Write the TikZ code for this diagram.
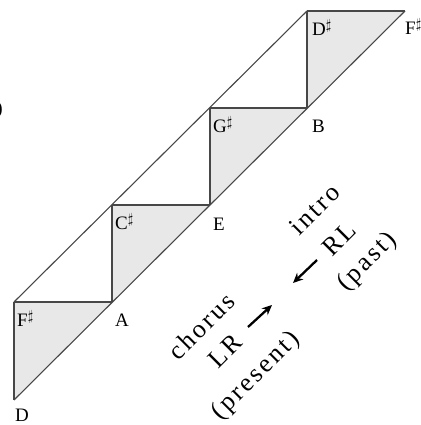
\documentclass[tikz,border=0pt]{standalone}
\usepackage{fontspec}
\setmainfont{Liberation Serif}
\usetikzlibrary{arrows.meta,calc}
\begin{document}
\begin{tikzpicture}[x=1pt,y=1pt,
  edge/.style={draw=black!72,line width=1.1pt,line join=miter},
  shade/.style={fill=black!9},
  lbl/.style={anchor=base west,inner sep=0pt,font=\fontsize{19}{19}\selectfont},
  rot/.style={rotate=45,inner sep=0pt,font=\fontsize{26}{26}\selectfont\addfontfeatures{LetterSpace=10}},
  bigarrow/.style={line width=2.3pt,-{Stealth[length=10pt,width=9pt]}}]
\useasboundingbox (0,0) rectangle (420,425);
% vertices
\coordinate (vD) at (14,25);
\coordinate (vF) at (14,123);
\coordinate (vA) at (112,123);
\coordinate (vC) at (112,220);
\coordinate (vE) at (210,220);
\coordinate (vG) at (210,317);
\coordinate (vB) at (307,317);
\coordinate (vDs) at (307,414);
\coordinate (vFs) at (405,414);
% shaded triangles
\fill[shade] (vF) -- (vA) -- (vD) -- cycle;
\fill[shade] (vC) -- (vE) -- (vA) -- cycle;
\fill[shade] (vG) -- (vB) -- (vE) -- cycle;
\fill[shade] (vDs) -- (vFs) -- (vB) -- cycle;
% outline
\draw[edge] (vD) -- (vFs);
\draw[edge] (vF) -- (vDs);
\draw[edge] (vF) -- (vA);
\draw[edge] (vC) -- (vE);
\draw[edge] (vG) -- (vB);
\draw[edge] (vDs) -- (vFs);
\draw[edge] (vD) -- (vF);
\draw[edge] (vA) -- (vC);
\draw[edge] (vE) -- (vG);
\draw[edge] (vB) -- (vDs);
% labels
\node[lbl] (lD) at ($(vD)+(1,-21)$) {D};
\node[lbl] (lF) at ($(vF)+(3,-25)$) {F$^{\sharp}$};
\node[lbl] (lA) at ($(vA)+(3,-25)$) {A};
\node[lbl] (lC) at ($(vC)+(3,-25)$) {C$^{\sharp}$};
\node[lbl] (lE) at ($(vE)+(3,-26)$) {E};
\node[lbl] (lG) at ($(vG)+(3,-25)$) {G$^{\sharp}$};
\node[lbl] (lB) at ($(vB)+(5,-25)$) {B};
\node[lbl] (lDs) at ($(vDs)+(5,-25)$) {D$^{\sharp}$};
\node[lbl] (lFs) at ($(vFs)+(0,-24)$) {F$^{\sharp}$};
\node[anchor=east,inner sep=0pt,font=\fontsize{19}{19}\selectfont] (frag) at (3,315) {)};
% rotated texts
\node[rot] (intro) at (315,216) {intro};
\node[rot] (RL) at (339,186) {RL};
\node[rot] (past) at (368,163) {(past)};
\node[rot] (chorus) at (201,99) {chorus};
\node[rot] (LR) at (225,74) {LR};
\node[rot] (present) at (256,49) {(present)};
% arrows
\coordinate (a1s) at (317,165);
\coordinate (a1e) at (293,142);
\coordinate (a2s) at (248,98);
\coordinate (a2e) at (272,120);
\draw[bigarrow] (a1s) -- (a1e);
\draw[bigarrow] (a2s) -- (a2e);
\end{tikzpicture}
\end{document}
